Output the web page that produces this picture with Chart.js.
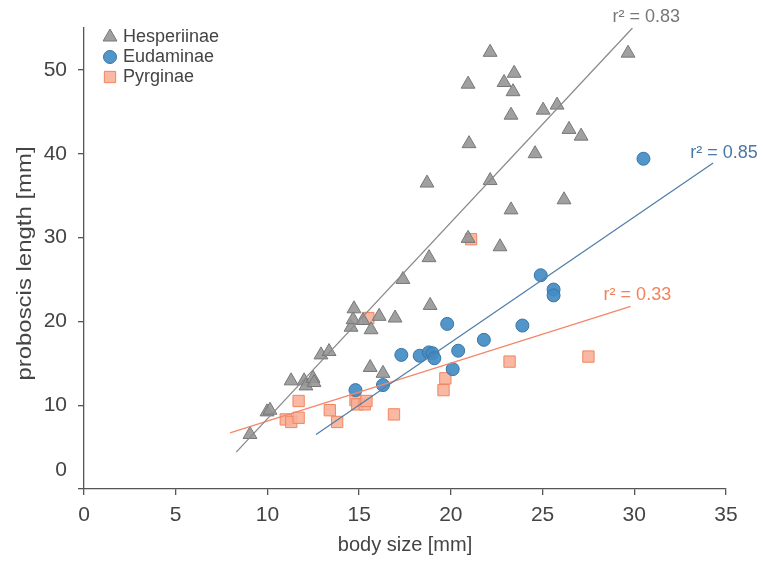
<!DOCTYPE html>
<html>
<head>
<meta charset="utf-8">
<script src="https://cdn.jsdelivr.net/npm/chart.js@4.4.1/dist/chart.umd.min.js"></script>
<style>
  html, body { margin: 0; background: #fff; }
  #wrap { width: 763px; height: 565px; position: relative; }
</style>
</head>
<body>
<div id="wrap"><canvas id="c"></canvas></div>
<script>
// values
const hespX = [9.05, 9.98, 10.14, 11.29, 12.0, 12.1, 12.49, 12.54, 12.92, 13.36, 14.56, 14.67, 14.72, 15.21, 15.65, 16.09, 16.96, 15.6, 16.3, 17.39, 18.87, 18.81,
               22.14, 20.94, 23.45, 22.9, 23.39, 29.66, 23.28, 25.03, 25.79, 20.99, 26.44, 27.1, 24.59, 18.7, 22.14, 26.17, 23.28, 20.94, 22.68];
const hespY = [6.5, 9.2, 9.4, 12.9, 12.9, 12.3, 13.2, 12.7, 16.0, 16.4, 19.3, 20.2, 21.5, 20.1, 19.0, 20.6, 20.4, 14.5, 13.8, 25.0, 21.9, 27.6,
               52.1, 48.3, 49.6, 48.5, 47.4, 52.0, 44.6, 45.2, 45.8, 41.2, 42.9, 42.1, 40.0, 36.5, 36.8, 34.5, 33.3, 29.9, 28.9];

const eudX = [14.8, 16.3, 17.3, 18.3, 18.8, 19.0, 19.1, 19.8, 20.1, 20.4, 21.8, 23.9, 24.9, 25.6, 25.6, 30.5];
const eudY = [11.8, 12.4, 16.0, 15.9, 16.3, 16.2, 15.6, 19.7, 14.3, 16.5, 17.8, 19.5, 25.5, 23.8, 23.1, 39.4];

const pyrX = [11.0, 11.3, 11.7, 11.7, 13.4, 13.8, 14.8, 14.9, 15.3, 15.4, 15.5, 16.9, 19.6, 19.7, 21.1, 23.2, 27.5];
const pyrY = [8.3, 8.0, 8.5, 10.5, 9.4, 8.0, 10.6, 10.1, 10.1, 10.5, 20.4, 8.9, 11.8, 13.2, 29.8, 15.2, 15.8];

// regression line end points
const hespFitX = [8.3, 29.9],  hespFitY = [4.4, 55.0];
const eudFitX  = [12.65, 34.3], eudFitY  = [6.5, 38.9];
const pyrFitX  = [7.96, 29.8], pyrFitY  = [6.7, 21.8];

const r2Text = ['r² = 0.83', 'r² = 0.85', 'r² = 0.33'];
const seriesNames = ['Hesperiinae', 'Eudaminae', 'Pyrginae'];

const xTicks = [0, 5, 10, 15, 20, 25, 30, 35];
const yTicks = [0, 10, 20, 30, 40, 50];

const FONT = '"Liberation Sans", Arial, sans-serif';
const GRAY = { fill: 'rgba(150,150,150,0.9)', line: '#777', fit: '#8a8a8a', text: '#777' };
const BLUE = { fill: 'rgba(66,140,196,0.92)', line: '#3a74a6', fit: '#527fa8', text: '#4a78a4' };
const ORNG = { fill: 'rgba(248,176,152,0.9)', line: '#f3845f', fit: '#f4876a', text: '#f2825f' };
const AXIS = '#555';
const TXT = '#444';

const pts = (xs, ys) => xs.map((x, i) => ({ x, y: ys[i] }));

function shape(ctx, style, x, y, r) {
  ctx.beginPath();
  if (style === 'triangle') {
    ctx.moveTo(x, y - r);
    ctx.lineTo(x + r * 0.866, y + r * 0.5);
    ctx.lineTo(x - r * 0.866, y + r * 0.5);
    ctx.closePath();
  } else if (style === 'circle') {
    ctx.arc(x, y, r, 0, Math.PI * 2);
  } else {
    const s = r * 0.707;
    ctx.rect(x - s, y - s, 2 * s, 2 * s);
  }
  ctx.fill();
  ctx.stroke();
}

const extras = {
  id: 'extras',
  afterDraw(chart) {
    const { ctx, scales: { x, y } } = chart;
    ctx.save();
    // the "0" on the y axis sits a bit above its tick in the original
    ctx.font = '21px ' + FONT;
    ctx.fillStyle = TXT;
    ctx.textAlign = 'right';
    ctx.textBaseline = 'middle';
    ctx.fillText('0', x.left - 17, y.getPixelForValue(0) - 19);

    // y title, slightly stretched along its length like the original
    ctx.save();
    ctx.translate(25, (y.top + y.bottom) / 2 + 5);
    ctx.rotate(-Math.PI / 2);
    ctx.scale(1.14, 1);
    ctx.textAlign = 'center';
    ctx.font = '21px ' + FONT;
    ctx.fillText('proboscis length [mm]', 0, 0);
    ctx.restore();

    // legend
    const leg = [['triangle', GRAY, 8], ['circle', BLUE, 6.5], ['rect', ORNG, 8]];
    ctx.font = '18px ' + FONT;
    ctx.textAlign = 'left';
    leg.forEach(([st, c, r], i) => {
      const ly = 37 + i * 20;
      ctx.fillStyle = c.fill; ctx.strokeStyle = c.line; ctx.lineWidth = 1;
      shape(ctx, st, 110, ly, r);
      ctx.fillStyle = TXT;
      ctx.fillText(seriesNames[i], 123, ly);
    });

    // r² labels near the fitted line ends
    const ends = [[hespFitX, hespFitY, GRAY, -20, -11], [eudFitX, eudFitY, BLUE, -23, -10], [pyrFitX, pyrFitY, ORNG, -27, -11]];
    ctx.font = '18px ' + FONT;
    ends.forEach(([fx, fy, c, dx, dy], i) => {
      const px = x.getPixelForValue(fx[1]), py = y.getPixelForValue(fy[1]);
      ctx.fillStyle = c.text;
      ctx.fillText(r2Text[i], px + dx, py + dy);
    });
    ctx.restore();
  }
};

const scatter = (label, data, c, style, r) => ({
  type: 'scatter', label, data, order: 2,
  pointStyle: style, pointRadius: r, pointHoverRadius: r,
  backgroundColor: c.fill, borderColor: c.line, borderWidth: 1
});
const fit = (data, c) => ({
  type: 'line', data, order: 1, showLine: true, pointRadius: 0,
  borderColor: c.fit, borderWidth: 1.3, fill: false, tension: 0
});

new Chart(document.getElementById('c'), {
  data: {
    datasets: [
      scatter(seriesNames[0], pts(hespX, hespY), GRAY, 'triangle', 8),
      scatter(seriesNames[1], pts(eudX, eudY), BLUE, 'circle', 6.5),
      scatter(seriesNames[2], pts(pyrX, pyrY), ORNG, 'rect', 8),
      fit(pts(hespFitX, hespFitY), GRAY),
      fit(pts(eudFitX, eudFitY), BLUE),
      fit(pts(pyrFitX, pyrFitY), ORNG)
    ]
  },
  options: {
    responsive: true, maintainAspectRatio: false, animation: false, devicePixelRatio: 1,
    layout: { padding: { top: 28, right: 37, left: 0, bottom: 0 } },
    plugins: { legend: { display: false }, tooltip: { enabled: false } },
    scales: {
      x: {
        type: 'linear', min: 0, max: 35,
        afterBuildTicks: s => { s.ticks = xTicks.map(v => ({ value: v })); },
        afterFit: s => { s.height = 76; },
        border: { color: AXIS, width: 1.3 },
        grid: { drawOnChartArea: false, drawTicks: true, tickLength: 6, color: AXIS, lineWidth: 1.3 },
        ticks: { color: TXT, padding: 8, font: { family: FONT, size: 21 } },
        title: { display: true, text: 'body size [mm]', color: TXT, padding: { top: 0, bottom: 8 },
                 font: { family: FONT, size: 20 } }
      },
      y: {
        type: 'linear', min: 0, max: 55,
        afterBuildTicks: s => { s.ticks = yTicks.map(v => ({ value: v })); },
        afterFit: s => { s.width = 84; },
        border: { color: AXIS, width: 1.3 },
        grid: { drawOnChartArea: false, drawTicks: true, tickLength: 6, color: AXIS, lineWidth: 1.3 },
        ticks: { color: TXT, padding: 11, font: { family: FONT, size: 21 },
                 callback: v => v === 0 ? '' : v }
      }
    }
  },
  plugins: [extras]
});
</script>
</body>
</html>
